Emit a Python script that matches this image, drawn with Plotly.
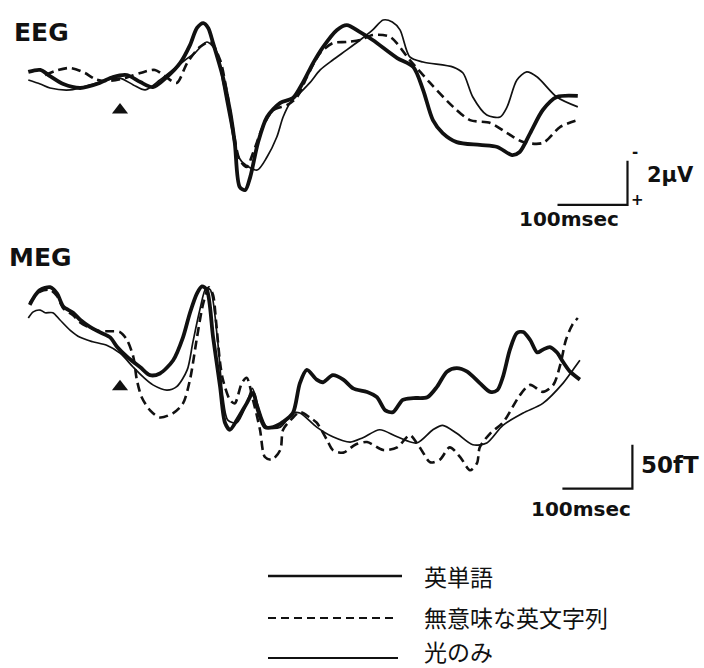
import plotly.graph_objects as go

# ---------------- data (time in ms from stimulus onset) ----------------
# EEG, amplitude in microvolts (negative plotted upward)
eeg_t_words = [-131, -114, -100, -81, -57, -29, -10, 10, 29, 47, 67, 86, 100, 110, 119, 126, 133, 147, 157, 164,
               171, 179, 186, 197, 210, 229, 247, 261, 276, 290, 310, 324, 343, 361, 396, 419, 433, 447, 461, 481,
               514, 539, 560, 571, 586, 604, 624, 654]
eeg_v_words = [-0.14, -0.23, 0.05, 0.41, 0.59, 0.36, 0.09, 0.0, 0.32, 0.55, 0.09, -0.55, -1.36, -2.14, -2.36, -2.14,
               -1.45, 0.09, 1.59, 3.09, 5.09, 5.23, 4.64, 3.09, 1.91, 1.27, 1.05, 0.36, -0.55, -1.27, -2.05, -2.27,
               -1.95, -1.59, -0.77, -0.36, 0.68, 2.05, 2.64, 3.05, 3.18, 3.27, 3.64, 3.5, 2.64, 1.59, 1.0, 0.95]

eeg_t_nonsense = [-107, -93, -71, -50, -36, -19, 7, 29, 50, 64, 81, 96, 114, 129, 143, 153, 161, 171, 181, 190,
                  204, 219, 239, 253, 267, 286, 304, 324, 343, 361, 386, 414, 443, 476, 500, 529, 553, 576, 604,
                  629, 654]
eeg_v_nonsense = [0.0, -0.18, -0.32, -0.09, 0.18, 0.27, 0.14, -0.09, -0.23, 0.05, 0.36, -0.55, -1.27, -1.5, -0.68,
                  0.82, 2.36, 3.86, 4.18, 3.55, 2.36, 1.59, 1.36, 1.0, 0.09, -1.0, -1.45, -1.5, -1.59, -1.82, -1.73,
                  -0.68, 0.36, 1.45, 2.05, 2.18, 2.64, 3.05, 3.09, 2.36, 2.05]

eeg_t_light = [-131, -114, -100, -71, -43, -19, 0, 19, 36, 57, 79, 93, 107, 124, 139, 147, 157, 167, 176, 196,
               210, 224, 233, 243, 257, 271, 286, 304, 324, 343, 361, 376, 389, 400, 414, 433, 476, 490, 504, 524,
               543, 553, 567, 581, 596, 624, 654]
eeg_v_light = [0.23, 0.41, 0.59, 0.68, 0.45, 0.23, 0.14, 0.45, 0.68, 0.23, -0.32, -0.68, -1.0, -1.5, -1.0, 0.36,
               2.05, 3.55, 4.0, 4.32, 3.73, 2.82, 1.91, 1.27, 0.82, 0.36, -0.23, -0.68, -1.14, -1.59, -2.05, -2.5,
               -2.41, -2.05, -0.82, -0.59, -0.36, -0.09, 1.0, 1.82, 1.91, 1.45, 0.23, -0.14, 0.09, 1.0, 1.45]

# MEG, field in fT
meg_t_words = [-129, -121, -114, -100, -90, -81, -67, -57, -43, -29, -14, -4, 10, 29, 43, 57, 76, 90, 100, 110,
               117, 124, 133, 143, 150, 157, 167, 181, 190, 197, 207, 219, 233, 247, 257, 267, 281, 290, 304, 319,
               333, 353, 367, 379, 390, 404, 419, 439, 453, 467, 481, 496, 514, 529, 539, 547, 557, 567, 576, 586,
               596, 604, 614, 624, 633, 643, 657]
meg_v_words = [40, 51, 57, 60, 53, 38, 31, 23, 15, 9, 3, -8, -19, -31, -40, -38, -23, 3, 31, 53,
               61, 57, 3, -53, -94, -102, -91, -72, -60, -80, -99, -99, -93, -83, -49, -34, -45, -48, -40, -45,
               -55, -59, -65, -80, -82, -68, -66, -65, -53, -36, -32, -36, -49, -59, -57, -42, -11, 8, 9, 0,
               -14, -11, -8, -14, -25, -36, -45]

meg_t_nonsense = [-129, -114, -100, -90, -81, -67, -57, -43, -29, -14, 0, 10, 19, 24, 31, 43, 57, 76, 90, 100,
                  110, 119, 127, 133, 137, 143, 147, 157, 164, 174, 181, 190, 200, 207, 217, 229, 233, 246, 257,
                  271, 281, 296, 304, 319, 336, 353, 376, 396, 414, 424, 433, 443, 457, 471, 486, 500, 510, 514,
                  529, 547, 561, 571, 586, 604, 619, 629, 637, 646, 654]
meg_v_nonsense = [42, 55, 57, 50, 36, 28, 20, 14, 10, 10, 9, 0, -19, -45, -65, -80, -88, -83, -72, -45,
                  3, 42, 60, 51, 23, -26, -45, -68, -72, -49, -43, -68, -102, -133, -136, -125, -102, -89, -82,
                  -88, -94, -114, -125, -128, -119, -116, -125, -122, -108, -117, -128, -139, -136, -122, -133, -148,
                  -140, -122, -106, -94, -76, -63, -51, -59, -51, -28, 0, 17, 25]

meg_t_light = [-131, -124, -114, -107, -96, -86, -71, -57, -39, -19, 0, 19, 33, 47, 67, 81, 96, 104, 114, 123,
               129, 139, 147, 154, 167, 181, 189, 197, 210, 229, 247, 257, 281, 304, 329, 347, 371, 396, 424, 447,
               461, 481, 504, 524, 547, 576, 604, 633, 647, 657]
meg_v_light = [25, 32, 34, 31, 31, 23, 11, 3, -2, -6, -15, -31, -42, -51, -57, -53, -34, -3, 34, 59,
               57, 3, -65, -91, -94, -72, -55, -74, -99, -99, -83, -83, -99, -110, -116, -111, -102, -110, -117, -102,
               -97, -106, -119, -117, -97, -83, -72, -49, -34, -23]

series_names = ["英単語", "無意味な英文字列", "光のみ"]
stim_onset_ms = [0]
eeg_arrow_uv = [1.59]
meg_arrow_ft = [-53]
eeg_bar_t = [625, 725, 725]
eeg_bar_v = [5.9, 5.9, 3.9]       # 100 ms, 2 uV
meg_bar_t = [632, 732, 732]
meg_bar_v = [-169, -169, -119]    # 100 ms, 50 fT

# ---------------- figure ----------------
W, H = 704, 668
def px(x):
    return x / W
def py(y):
    return 1 - y / H

BLACK = "#111111"
styles = [dict(width=3.8, dash="solid"), dict(width=2.6, dash="9px,5px"), dict(width=1.7, dash="solid")]

fig = go.Figure()
eeg_sets = [(eeg_t_words, eeg_v_words), (eeg_t_nonsense, eeg_v_nonsense), (eeg_t_light, eeg_v_light)]
meg_sets = [(meg_t_words, meg_v_words), (meg_t_nonsense, meg_v_nonsense), (meg_t_light, meg_v_light)]
for (t, v), st, nm in zip(eeg_sets, styles, series_names):
    fig.add_trace(go.Scatter(x=t, y=v, mode="lines", name=nm, xaxis="x", yaxis="y",
                             line=dict(color=BLACK, width=st["width"], dash=st["dash"], shape="spline", smoothing=0.8)))
for (t, v), st, nm in zip(meg_sets, styles, series_names):
    fig.add_trace(go.Scatter(x=t, y=v, mode="lines", name=nm, xaxis="x2", yaxis="y2",
                             line=dict(color=BLACK, width=st["width"], dash=st["dash"], shape="spline", smoothing=0.8)))

# stimulus onset arrows
fig.add_trace(go.Scatter(x=stim_onset_ms, y=eeg_arrow_uv, mode="markers", xaxis="x", yaxis="y",
                         marker=dict(symbol="triangle-up", size=14, color=BLACK)))
fig.add_trace(go.Scatter(x=stim_onset_ms, y=meg_arrow_ft, mode="markers", xaxis="x2", yaxis="y2",
                         marker=dict(symbol="triangle-up", size=14, color=BLACK)))
# scale bars
fig.add_trace(go.Scatter(x=eeg_bar_t, y=eeg_bar_v, mode="lines", xaxis="x", yaxis="y",
                         line=dict(color=BLACK, width=2.2)))
fig.add_trace(go.Scatter(x=meg_bar_t, y=meg_bar_v, mode="lines", xaxis="x2", yaxis="y2",
                         line=dict(color=BLACK, width=2.2)))

xr = [(0 - 120) * 100 / 70, (W - 120) * 100 / 70]
fig.update_layout(
    width=W, height=H, margin=dict(l=0, r=0, t=0, b=0),
    paper_bgcolor="white", plot_bgcolor="white", showlegend=False,
    xaxis=dict(domain=[0, 1], range=xr, visible=False, anchor="y"),
    yaxis=dict(domain=[py(230), 1], range=[(230 - 75) / 22, (0 - 75) / 22], visible=False, anchor="x"),
    xaxis2=dict(domain=[0, 1], range=xr, visible=False, anchor="y2"),
    yaxis2=dict(domain=[py(530), py(230)], range=[(340 - 530) * 50 / 44, (340 - 230) * 50 / 44],
                visible=False, anchor="x2"),
)

bold = "DejaVu Sans"
ann = []
ann.append(dict(text="<b>EEG</b>", x=px(12), y=py(32), xref="paper", yref="paper", xanchor="left", yanchor="middle",
                showarrow=False, font=dict(family=bold, size=25, color=BLACK)))
ann.append(dict(text="<b>MEG</b>", x=px(7), y=py(257), xref="paper", yref="paper", xanchor="left", yanchor="middle",
                showarrow=False, font=dict(family=bold, size=25, color=BLACK)))
# EEG scale labels
ann.append(dict(text="<b>2µV</b>", x=750, y=4.55, xref="x", yref="y", xanchor="left", yanchor="middle",
                showarrow=False, font=dict(family=bold, size=21, color=BLACK)))
ann.append(dict(text="<b>-</b>", x=736, y=3.5, xref="x", yref="y", xanchor="center", yanchor="middle",
                showarrow=False, font=dict(family=bold, size=15, color=BLACK)))
ann.append(dict(text="<b>+</b>", x=739, y=5.68, xref="x", yref="y", xanchor="center", yanchor="middle",
                showarrow=False, font=dict(family=bold, size=15, color=BLACK)))
ann.append(dict(text="<b>100msec</b>", x=641, y=6.55, xref="x", yref="y", xanchor="center", yanchor="middle",
                showarrow=False, font=dict(family=bold, size=20, color=BLACK)))
# MEG scale labels
ann.append(dict(text="<b>50fT</b>", x=742, y=-142, xref="x2", yref="y2", xanchor="left", yanchor="middle",
                showarrow=False, font=dict(family=bold, size=23, color=BLACK)))
ann.append(dict(text="<b>100msec</b>", x=659, y=-192, xref="x2", yref="y2", xanchor="center", yanchor="middle",
                showarrow=False, font=dict(family=bold, size=20, color=BLACK)))

# legend
leg_line_y = [576, 618, 658]
leg_text_y = [576, 617, 651]
leg_x1 = [402, 396, 398]
shapes = []
for i, nm in enumerate(series_names):
    lw = 2.6 if i == 0 else 2.0
    shapes.append(dict(type="line", xref="paper", yref="paper", x0=px(268), x1=px(leg_x1[i]),
                       y0=py(leg_line_y[i]), y1=py(leg_line_y[i]),
                       line=dict(color=BLACK, width=lw, dash="8px,5px" if i == 1 else "solid")))
    ann.append(dict(text=nm, x=px(422), y=py(leg_text_y[i]), xref="paper", yref="paper", xanchor="left",
                    yanchor="middle", showarrow=False,
                    font=dict(family="Noto Sans CJK JP", size=23, color=BLACK)))

fig.update_layout(annotations=ann, shapes=shapes)
fig.write_html("out.html", config={"displayModeBar": False},
               post_script="document.body.style.margin='0';document.body.style.padding='0';"
                           "document.body.style.overflow='hidden';")
